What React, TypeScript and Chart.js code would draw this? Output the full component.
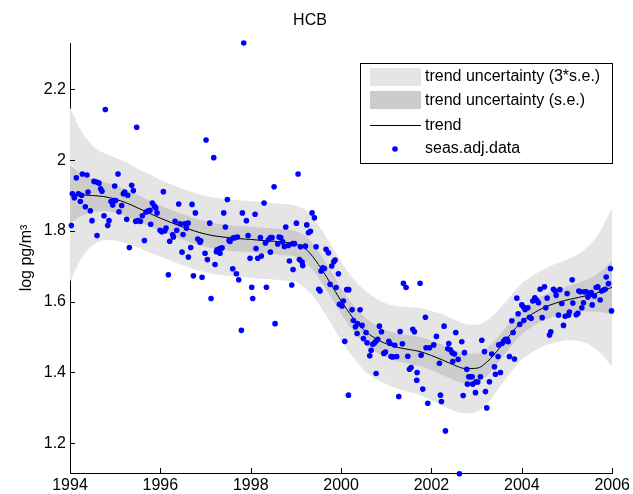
import React, { useEffect, useRef } from 'react';
import { Chart, registerables } from 'chart.js';

Chart.register(...registerables);

const FONT = "'Liberation Sans', Arial, Helvetica, sans-serif";

const titleText = 'HCB';
const yAxisTitle = 'log pg/m³';
const legendLabels = ['trend uncertainty (3*s.e.)', 'trend uncertainty (s.e.)', 'trend', 'seas.adj.data'];

const xTicks = [1994, 1996, 1998, 2000, 2002, 2004, 2006];
const yTicks = [1.2, 1.4, 1.6, 1.8, 2.0, 2.2];

const gridYears = [
  1994, 1994.25, 1994.5, 1994.75, 1995, 1995.25, 1995.5, 1995.75, 1996, 1996.25, 1996.5, 1996.75,
  1997, 1997.25, 1997.5, 1997.75, 1998, 1998.25, 1998.5, 1998.75, 1999, 1999.25, 1999.5, 1999.75,
  2000, 2000.25, 2000.5, 2000.75, 2001, 2001.25, 2001.5, 2001.75, 2002, 2002.25, 2002.5, 2002.75,
  2003, 2003.25, 2003.5, 2003.75, 2004, 2004.25, 2004.5, 2004.75, 2005, 2005.25, 2005.5, 2005.75, 2006,
];

const trendValues = [
  1.903, 1.902, 1.9, 1.897, 1.89, 1.879, 1.865, 1.85, 1.836, 1.823, 1.811, 1.8,
  1.791, 1.785, 1.781, 1.778, 1.776, 1.773, 1.771, 1.768, 1.763, 1.745, 1.705, 1.655,
  1.602, 1.557, 1.521, 1.497, 1.481, 1.471, 1.465, 1.459, 1.448, 1.435, 1.421, 1.411,
  1.412, 1.432, 1.468, 1.508, 1.544, 1.567, 1.584, 1.596, 1.605, 1.612, 1.619, 1.628, 1.641,
];

const seValues = [
  0.082, 0.06, 0.047, 0.041, 0.039, 0.038, 0.037, 0.037, 0.036, 0.036, 0.036, 0.036,
  0.036, 0.036, 0.036, 0.036, 0.036, 0.036, 0.036, 0.036, 0.036, 0.037, 0.037, 0.037,
  0.037, 0.037, 0.038, 0.038, 0.038, 0.039, 0.04, 0.041, 0.042, 0.043, 0.043, 0.042,
  0.041, 0.039, 0.037, 0.036, 0.036, 0.036, 0.036, 0.037, 0.038, 0.041, 0.047, 0.058, 0.075,
];

const pointYears = [
  1994.030, 1994.052, 1994.096, 1994.140, 1994.185, 1994.229, 1994.258, 1994.273, 1994.339, 1994.376,
  1994.399, 1994.450, 1994.487, 1994.531, 1994.590, 1994.598, 1994.642, 1994.679, 1994.708, 1994.753,
  1994.782, 1994.834, 1994.863, 1994.908, 1994.945, 1994.967, 1994.989, 1995.011, 1995.063, 1995.085,
  1995.144, 1995.181, 1995.210, 1995.255, 1995.277, 1995.314, 1995.365, 1995.402, 1995.454, 1995.476,
  1995.498, 1995.557, 1995.601, 1995.646, 1995.683, 1995.734, 1995.771, 1995.786, 1995.823, 1995.867,
  1995.897, 1995.926, 1995.993, 1996.030, 1996.066, 1996.096, 1996.125, 1996.207, 1996.273, 1996.288,
  1996.325, 1996.362, 1996.406, 1996.435, 1996.502, 1996.539, 1996.576, 1996.613, 1996.672, 1996.701,
  1996.775, 1996.827, 1996.878, 1996.893, 1997.011, 1997.092, 1997.181, 1997.255, 1997.314, 1997.365,
  1997.402, 1997.439, 1997.483, 1997.520, 1997.542, 1997.609, 1997.646, 1997.705, 1997.815, 1997.845,
  1997.904, 1997.941, 1998.096, 1998.118, 1998.214, 1998.295, 1998.325, 1998.391, 1998.435, 1998.472,
  1998.517, 1998.598, 1998.627, 1998.664, 1998.708, 1998.745, 1998.775, 1998.834, 1998.930, 1998.967,
  1999.011, 1999.048, 1999.100, 1999.240, 1999.277, 1999.321, 1999.358, 1999.410,
  1996.177, 1996.480, 1996.620, 1996.731, 1996.923, 1996.989, 1997.041, 1997.122, 1997.210, 1997.240,
  1997.321, 1997.601, 1997.683, 1997.734, 1997.793, 1997.985, 1998.022, 1998.044, 1998.155, 1998.236,
  1998.347, 1998.435, 1998.539, 1998.856, 1998.908, 1998.937, 1999.077, 1999.137, 1999.151, 1999.210,
  1999.446, 1999.505, 1999.534, 1999.556, 1999.593, 1999.630, 1999.667, 1999.719, 1999.756, 1999.793,
  1999.837, 1999.866, 1999.889, 1999.940, 1999.962, 2000.021, 2000.051, 2000.080, 2000.125, 2000.169,
  2000.162, 2000.243, 2000.272, 2000.317, 2000.354, 2000.361, 2000.420, 2000.464, 2000.494, 2000.553,
  2000.575, 2000.634, 2000.664, 2000.700, 2000.737, 2000.774, 2000.811, 2000.774, 2000.848, 2000.892,
  2000.944, 2000.981, 2001.055, 2001.084, 2001.106, 2001.143, 2001.188, 2001.232, 2001.276, 2001.306,
  2001.357, 2001.379, 2001.438, 2001.475, 2001.512, 2001.549, 2001.586, 2001.623, 2001.682, 2001.675,
  2001.748, 2001.771, 2001.808, 2001.866, 2001.881, 2001.955, 2001.918, 2002.051, 2002.110, 2002.177,
  2002.199, 2002.221, 2002.280, 2002.309, 2002.361, 2002.383, 2002.420, 2002.457, 2002.472, 2002.509,
  2002.538, 2002.590, 2002.619, 2002.671, 2002.701, 2002.730, 2002.782, 2002.796, 2002.826, 2002.870,
  2002.900, 2002.914, 2002.974, 2002.988, 2003.025, 2003.084, 2003.114, 2003.173, 2003.195, 2003.224,
  2003.283, 2003.335, 2003.394, 2003.416, 2003.475, 2003.490, 2003.527, 2003.564, 2003.601, 2003.638,
  2003.675, 2003.697, 2003.726, 2003.778, 2003.807, 2003.837, 2003.889, 2003.918, 2003.955, 2004.000,
  2004.036, 2004.073, 2004.044, 2004.132, 2004.169, 2004.206, 2004.243, 2004.287, 2004.331, 2004.368,
  2004.405, 2004.450, 2004.501, 2004.531, 2004.560, 2004.612, 2004.641, 2004.700, 2004.737, 2004.760,
  2004.811, 2004.841, 2004.885, 2004.922, 2004.959, 2005.003, 2005.033, 2005.055, 2005.114, 2005.129,
  2005.203, 2005.239, 2005.261, 2005.298, 2005.328, 2005.365, 2005.387, 2005.424, 2005.461, 2005.498,
  2005.535, 2005.557, 2005.608, 2005.645, 2005.682, 2005.734, 2005.763, 2005.808, 2005.844, 2005.867,
  2005.918, 2005.962, 2005.985,
];

const pointValues = [
  1.815, 1.905, 1.894, 1.950, 1.905, 1.883, 1.901, 1.961, 1.868, 1.958,
  1.910, 1.857, 1.829, 1.940, 1.938, 1.787, 1.935, 1.919, 1.912, 1.843,
  2.143, 1.815, 1.829, 1.883, 1.873, 1.886, 1.927, 1.886, 1.961, 1.854,
  1.872, 1.905, 1.910, 1.833, 1.901, 1.753, 1.929, 1.914, 1.827, 2.093,
  1.829, 1.827, 1.843, 1.773, 1.853, 1.857, 1.858, 1.819, 1.879, 1.870,
  1.865, 1.851, 1.802, 1.798, 1.911, 1.800, 1.808, 1.771, 1.789, 1.783,
  1.827, 1.802, 1.876, 1.820, 1.790, 1.820, 1.808, 1.822, 1.753, 1.875,
  1.851, 1.777, 1.768, 1.772, 2.057, 1.822, 2.007, 1.747, 1.750, 1.752,
  1.851, 1.811, 1.889, 1.773, 1.770, 1.780, 1.781, 1.783, 1.851, 2.331,
  1.829, 1.787, 1.847, 1.750, 1.781, 1.879, 1.766, 1.775, 1.781, 1.781,
  1.925, 1.763, 1.783, 1.781, 1.769, 1.756, 1.811, 1.759, 1.764, 1.764,
  1.822, 1.961, 1.755, 1.817, 1.795, 1.799, 1.851, 1.837,
  1.676, 1.740, 1.726, 1.673, 1.669, 1.737, 1.719, 1.609, 1.705, 1.741,
  1.737, 1.693, 1.679, 1.662, 1.519, 1.723, 1.641, 1.609, 1.723, 1.729,
  1.641, 1.740, 1.538, 1.715, 1.647, 1.691, 1.719, 1.712, 1.702, 1.757,
  1.755, 1.635, 1.630, 1.687, 1.696, 1.694, 1.748, 1.738, 1.649, 1.701,
  1.713, 1.718, 1.640, 1.679, 1.593, 1.588, 1.602, 1.488, 1.634, 1.634,
  1.336, 1.577, 1.547, 1.529, 1.510, 1.538, 1.577, 1.533, 1.496, 1.513,
  1.484, 1.447, 1.463, 1.480, 1.483, 1.489, 1.494, 1.397, 1.531, 1.515,
  1.454, 1.458, 1.488, 1.482, 1.445, 1.444, 1.477, 1.445, 1.332, 1.516,
  1.481, 1.652, 1.640, 1.446, 1.409, 1.414, 1.522, 1.515, 1.400, 1.378,
  1.652, 1.449, 1.353, 1.556, 1.470, 1.470, 1.313, 1.478, 1.502, 1.426,
  1.336, 1.318, 1.531, 1.235, 1.467, 1.482, 1.464, 1.456, 1.431, 1.452,
  1.513, 1.437, 1.114, 1.487, 1.335, 1.456, 1.409, 1.367, 1.388, 1.388,
  1.388, 1.367, 1.343, 1.374, 1.373, 1.388, 1.491, 1.459, 1.346, 1.300,
  1.374, 1.452, 1.416, 1.395, 1.445, 1.478, 1.400, 1.482, 1.489, 1.494,
  1.494, 1.487, 1.445, 1.546, 1.513, 1.438, 1.610, 1.566, 1.536, 1.591,
  1.585, 1.578, 1.547, 1.583, 1.556, 1.553, 1.602, 1.611, 1.604, 1.597,
  1.635, 1.555, 1.642, 1.583, 1.610, 1.506, 1.515, 1.635, 1.630, 1.618,
  1.562, 1.634, 1.595, 1.533, 1.559, 1.623, 1.562, 1.571, 1.662, 1.596,
  1.563, 1.567, 1.630, 1.628, 1.583, 1.597, 1.628, 1.628, 1.613, 1.619,
  1.626, 1.591, 1.616, 1.640, 1.642, 1.605, 1.630, 1.633, 1.635, 1.670,
  1.651, 1.694, 1.574,
];

const LIGHT = 'rgb(229,229,229)';
const DARK = 'rgb(204,204,204)';
const BLUE = '#0000ff';

export default function App() {
  const ref = useRef<HTMLCanvasElement>(null);

  useEffect(() => {
    const canvas = ref.current;
    if (!canvas) return;

    const band = (k: number) =>
      gridYears.map((x, i) => ({ x, y: trendValues[i] + k * seValues[i] }));

    const lineBase = {
      type: 'line' as const,
      pointRadius: 0,
      borderWidth: 0,
      borderColor: 'transparent',
      cubicInterpolationMode: 'monotone' as const,
    };

    const decor = {
      id: 'decor',
      afterDraw(chart: any) {
        const c = chart.ctx;
        const { left, bottom } = chart.chartArea;
        const xs = chart.scales.x;
        const ys = chart.scales.y;
        c.save();
        c.strokeStyle = '#000';
        c.lineWidth = 1;
        c.beginPath();
        yTicks.forEach((v) => {
          const y = Math.round(ys.getPixelForValue(v)) + 0.5;
          c.moveTo(left, y);
          c.lineTo(left + 5, y);
        });
        xTicks.forEach((v) => {
          const x = Math.round(xs.getPixelForValue(v)) + 0.5;
          c.moveTo(x, bottom);
          c.lineTo(x, bottom - 5);
        });
        c.stroke();

        c.fillStyle = '#000';
        c.font = `16px ${FONT}`;
        c.textAlign = 'center';
        c.textBaseline = 'middle';
        c.fillText(titleText, 310, 21);

        // legend
        c.fillStyle = '#fff';
        c.fillRect(360, 63, 253, 100);
        c.strokeStyle = '#000';
        c.strokeRect(360.5, 63.5, 252, 100);
        c.fillStyle = LIGHT;
        c.fillRect(370, 68, 51, 18);
        c.fillStyle = DARK;
        c.fillRect(370, 91, 51, 18);
        c.beginPath();
        c.moveTo(370, 125.5);
        c.lineTo(421, 125.5);
        c.stroke();
        c.fillStyle = BLUE;
        c.beginPath();
        c.arc(395, 149, 2.8, 0, Math.PI * 2);
        c.fill();
        c.fillStyle = '#000';
        c.textAlign = 'left';
        const rowsY = [77, 101, 126, 149];
        legendLabels.forEach((t, i) => c.fillText(t, 425, rowsY[i]));
        c.restore();
      },
    };

    const chart = new Chart(canvas, {
      type: 'line',
      data: {
        datasets: [
          {
            type: 'scatter',
            label: legendLabels[3],
            data: pointYears.map((x, i) => ({ x, y: pointValues[i] })),
            pointRadius: 2.8,
            pointBackgroundColor: BLUE,
            pointBorderWidth: 0,
            backgroundColor: BLUE,
            borderColor: BLUE,
            showLine: false,
            clip: false as any,
          } as any,
          {
            type: 'line',
            label: legendLabels[2],
            data: gridYears.map((x, i) => ({ x, y: trendValues[i] })),
            borderColor: '#000',
            borderWidth: 1,
            pointRadius: 0,
            fill: false,
            cubicInterpolationMode: 'monotone',
          },
          { ...lineBase, label: legendLabels[1], data: band(1), fill: '+1', backgroundColor: DARK },
          { ...lineBase, label: 'se-low', data: band(-1), fill: false },
          { ...lineBase, label: legendLabels[0], data: band(3), fill: '+1', backgroundColor: LIGHT },
          { ...lineBase, label: '3se-low', data: band(-3), fill: false },
        ] as any,
      },
      options: {
        animation: false,
        responsive: true,
        maintainAspectRatio: false,
        layout: { padding: { top: 43, right: 20.5, left: 0, bottom: 0 } },
        plugins: {
          legend: { display: false },
          tooltip: { enabled: false },
          title: { display: false },
        },
        scales: {
          x: {
            type: 'linear',
            min: 1994,
            max: 2006,
            afterBuildTicks: (s: any) => {
              s.ticks = xTicks.map((v) => ({ value: v }));
            },
            afterFit: (s: any) => {
              s.height = 21;
            },
            grid: { display: false, drawTicks: false },
            border: { display: true, color: '#000', width: 1 },
            ticks: {
              font: { family: FONT, size: 16 },
              color: '#000',
              padding: 3,
              maxRotation: 0,
              autoSkip: false,
              callback: (v: any) => String(v),
            },
          },
          y: {
            type: 'linear',
            min: 1.116,
            max: 2.331,
            afterBuildTicks: (s: any) => {
              s.ticks = yTicks.map((v) => ({ value: v }));
            },
            afterFit: (s: any) => {
              s.width = 70;
            },
            grid: { display: false, drawTicks: false },
            border: { display: true, color: '#000', width: 1 },
            title: {
              display: true,
              text: yAxisTitle,
              font: { family: FONT, size: 16 },
              color: '#000',
              padding: { top: 17, bottom: 0 },
            },
            ticks: {
              font: { family: FONT, size: 16 },
              color: '#000',
              padding: 4,
              autoSkip: false,
              callback: (v: any) => String(Math.round(Number(v) * 10) / 10),
            },
          },
        },
      } as any,
      plugins: [decor],
    });

    return () => chart.destroy();
  }, []);

  return (
    <div style={{ position: 'fixed', left: 0, top: 0, width: 633, height: 494, background: '#fff' }}>
      <canvas ref={ref} />
    </div>
  );
}
